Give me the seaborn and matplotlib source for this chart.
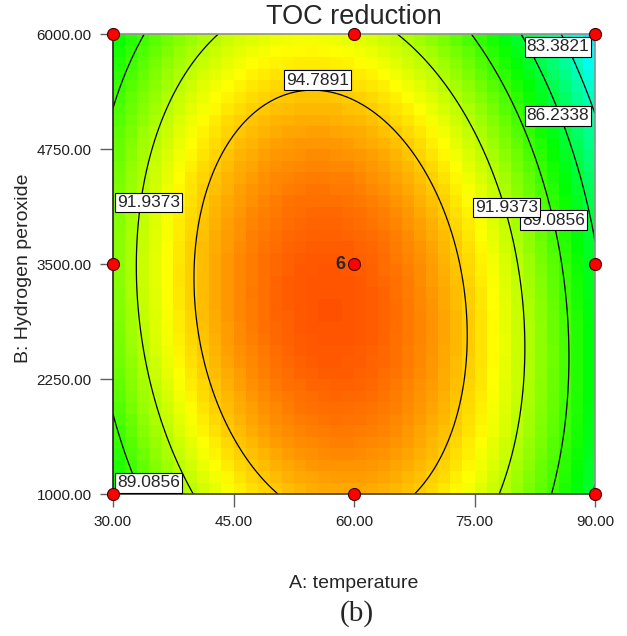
import numpy as np
import pandas as pd
import matplotlib
matplotlib.use("Agg")
import matplotlib.pyplot as plt
from matplotlib.colors import LinearSegmentedColormap
import seaborn as sns

# ---- data ----
# quadratic model in coded units a=(T-60)/30, b=(H-3500)/2500
coef_names = ["const", "A", "B", "AB", "A2", "B2"]
coef_values = [97.36, -1.98, -1.33, -1.41, -8.84, -3.20]

temp_range = [30.0, 90.0]
h2o2_range = [1000.0, 6000.0]

contour_levels = [83.3821, 86.2338, 89.0856, 91.9373, 94.7891]

x_ticks = [30, 45, 60, 75, 90]
x_tick_labels = ["30.00", "45.00", "60.00", "75.00", "90.00"]
y_ticks = [1000, 2250, 3500, 4750, 6000]
y_tick_labels = ["1000.00", "2250.00", "3500.00", "4750.00", "6000.00"]

design_temp = [30, 60, 90, 30, 60, 90, 30, 60, 90]
design_h2o2 = [1000, 1000, 1000, 3500, 3500, 3500, 6000, 6000, 6000]
center_reps = "6"

# contour label placement (level index, temperature, h2o2), drawn in order
label_level = [0, 1, 4, 3, 2, 3, 2]
label_temp = [85.39, 85.39, 55.46, 34.42, 84.83, 78.98, 34.42]
label_h2o2 = [5859, 5109, 5500, 4168, 3978, 4114, 1120]

color_min, color_max = 75.9, 99.5
cmap_colors = ["#0000ff", "#00ffff", "#00ff00", "#ffff00", "#ff0000"]


def model(T, H):
    a = (T - 60.0) / 30.0
    b = (H - 3500.0) / 2500.0
    c = dict(zip(coef_names, coef_values))
    return (c["const"] + c["A"] * a + c["B"] * b + c["AB"] * a * b
            + c["A2"] * a * a + c["B2"] * b * b)


sns.set_style("white")
plt.rcParams["font.family"] = ["Liberation Sans", "DejaVu Sans"]

fig = plt.figure(figsize=(6.27, 6.36), dpi=100)
ax = fig.add_axes([113 / 627, 1 - 494 / 636, 482 / 627, 460 / 636])

cmap = LinearSegmentedColormap.from_list("de", cmap_colors)

# coarse colored cells
nc = 40
xe = np.linspace(temp_range[0], temp_range[1], nc + 1)
ye = np.linspace(h2o2_range[0], h2o2_range[1], nc + 1)
xc = 0.5 * (xe[:-1] + xe[1:])
yc = 0.5 * (ye[:-1] + ye[1:])
XC, YC = np.meshgrid(xc, yc)
ax.pcolormesh(xe, ye, model(XC, YC), cmap=cmap, vmin=color_min,
              vmax=color_max, shading="flat", zorder=1)

# contour lines
xf = np.linspace(temp_range[0], temp_range[1], 300)
yf = np.linspace(h2o2_range[0], h2o2_range[1], 300)
XF, YF = np.meshgrid(xf, yf)
ax.contour(XF, YF, model(XF, YF), levels=contour_levels, colors="black",
           linewidths=0.9, zorder=2)

for k, (li, tx, hy) in enumerate(zip(label_level, label_temp, label_h2o2)):
    ax.text(tx, hy, f"{contour_levels[li]:.4f}", ha="center", va="center",
            fontsize=12.5, zorder=4 + 0.01 * k,
            bbox=dict(boxstyle="square,pad=0.12", fc="white", ec="black",
                      lw=0.8))

# design points
pts = pd.DataFrame({"temperature": design_temp, "h2o2": design_h2o2})
sns.scatterplot(data=pts, x="temperature", y="h2o2", ax=ax, color="#ff0000",
                edgecolor="#400000", linewidth=0.8, s=75, clip_on=False,
                zorder=5, legend=False)
ax.text(58.95, 3500, center_reps, ha="right", va="center", fontsize=13,
        fontweight="bold", zorder=6)

ax.set_xlim(*temp_range)
ax.set_ylim(*h2o2_range)
ax.set_xticks(x_ticks)
ax.set_xticklabels(x_tick_labels)
ax.set_yticks(y_ticks)
ax.set_yticklabels(y_tick_labels)
ax.tick_params(direction="out", length=9.4, width=1.0, color="#606060",
               labelsize=11, pad=6, labelcolor="#202020")
ax.tick_params(axis="x", bottom=True)
ax.tick_params(axis="y", left=True)
ax.set_xlabel("")
ax.set_ylabel("")
for side, col in [("top", "#909090"), ("right", "#909090"),
                  ("bottom", "#404040"), ("left", "#202020")]:
    ax.spines[side].set_visible(True)
    ax.spines[side].set_color(col)
    ax.spines[side].set_linewidth(1.2)

fig.text(354 / 627, 1 - 17 / 636, "TOC reduction", ha="center", va="center",
         fontsize=19.5)
fig.text(354 / 627, 1 - 584 / 636, "A: temperature", ha="center",
         va="center", fontsize=14)
fig.text(24 / 627, 1 - 268 / 636, "B: Hydrogen peroxide", ha="center",
         va="center", rotation=90, fontsize=14)
fig.text(357 / 627, 1 - 614 / 636, "(b)", ha="center", va="center",
         fontsize=21, family=["Liberation Serif", "DejaVu Serif"])

fig.savefig("out.png", dpi=100)
